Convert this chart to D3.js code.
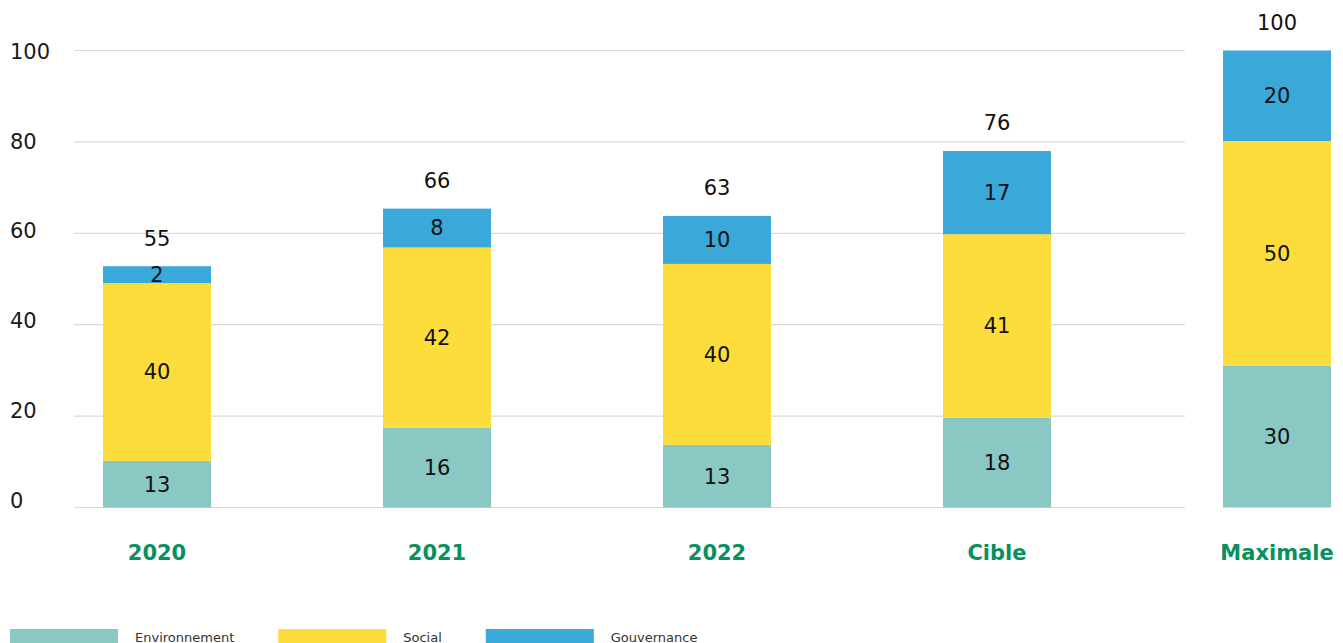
<!DOCTYPE html>
<html>
<head>
<meta charset="utf-8">
<script src="https://cdn.jsdelivr.net/npm/d3@7"></script>
<style>
  body { margin: 0; background: #fff; }
  svg { display: block; font-family: "DejaVu Sans", "Noto Sans", sans-serif; }
</style>
</head>
<body>
<script>
// categories and values
const categories = ["2020", "2021", "2022", "Cible", "Maximale"];
const seriesNames = ["Environnement", "Social", "Gouvernance"];
// drawn segment heights
const envValues = [10.2, 17.5, 13.7, 19.6, 31];
const socialValues = [38.9, 39.4, 39.6, 40.2, 49.2];
const govValues = [3.7, 8.5, 10.5, 18.2, 19.8];
// printed labels
const envLabels = ["13", "16", "13", "18", "30"];
const socialLabels = ["40", "42", "40", "41", "50"];
const govLabels = ["2", "8", "10", "17", "20"];
const totalLabels = ["55", "66", "63", "76", "100"];
const yTicks = [0, 20, 40, 60, 80, 100];

const colors = ["#8ac8c4", "#fcdd3c", "#3aa8d8"];
const W = 1343, H = 643;

const svg = d3.select("body").append("svg")
    .attr("width", W)
    .attr("height", H);

const y = d3.scaleLinear().domain([0, 100]).range([507.5, 50.5]);
const yLabel = d3.scaleLinear().domain([0, 100]).range([500.5, 51.5]);
const x = d3.scalePoint().domain(categories).range([157, 1277]);
const barWidth = 108;

// gridlines
svg.append("g")
    .selectAll("line")
    .data(yTicks)
    .join("line")
    .attr("x1", 74)
    .attr("x2", 1185)
    .attr("y1", d => y(d))
    .attr("y2", d => y(d))
    .attr("stroke", "#d9d9d9")
    .attr("stroke-width", 1.2);

// y tick labels
svg.append("g")
    .selectAll("text")
    .data(yTicks)
    .join("text")
    .attr("x", 10)
    .attr("y", d => yLabel(d))
    .attr("dy", "0.35em")
    .attr("font-size", 21)
    .attr("fill", "#1a1a1a")
    .text(d => d);

// stack
const rows = categories.map((c, i) => ({
    cat: c,
    Environnement: envValues[i],
    Social: socialValues[i],
    Gouvernance: govValues[i]
}));
const stacked = d3.stack().keys(seriesNames)(rows);
const segLabels = [envLabels, socialLabels, govLabels];

const layers = svg.append("g")
    .selectAll("g")
    .data(stacked)
    .join("g")
    .attr("fill", (d, i) => colors[i]);

layers.selectAll("rect")
    .data(d => d)
    .join("rect")
    .attr("x", d => x(d.data.cat) - barWidth / 2)
    .attr("y", d => y(d[1]))
    .attr("width", barWidth)
    .attr("height", d => y(d[0]) - y(d[1]));

// segment labels
stacked.forEach((layer, li) => {
    svg.append("g")
        .selectAll("text")
        .data(layer)
        .join("text")
        .attr("x", d => x(d.data.cat))
        .attr("y", d => (y(d[0]) + y(d[1])) / 2)
        .attr("dy", "0.35em")
        .attr("text-anchor", "middle")
        .attr("font-size", 21)
        .attr("fill", "#111")
        .text((d, i) => segLabels[li][i]);
});

// totals
const topLayer = stacked[stacked.length - 1];
svg.append("g")
    .selectAll("text")
    .data(topLayer)
    .join("text")
    .attr("x", d => x(d.data.cat))
    .attr("y", d => y(d[1]) - 28)
    .attr("dy", "0.35em")
    .attr("text-anchor", "middle")
    .attr("font-size", 21)
    .attr("fill", "#111")
    .text((d, i) => totalLabels[i]);

// category labels
svg.append("g")
    .selectAll("text")
    .data(categories)
    .join("text")
    .attr("x", d => x(d))
    .attr("y", 553)
    .attr("dy", "0.35em")
    .attr("text-anchor", "middle")
    .attr("font-size", 21)
    .attr("font-weight", "bold")
    .attr("fill", "#0a8f5e")
    .text(d => d);

// legend
const legend = svg.append("g");
let lx = 10;
seriesNames.forEach((name, i) => {
    legend.append("rect")
        .attr("x", lx)
        .attr("y", 629)
        .attr("width", 108)
        .attr("height", 20)
        .attr("fill", colors[i]);
    const t = legend.append("text")
        .attr("x", lx + 125)
        .attr("y", 642)
        .attr("font-size", 13)
        .attr("fill", "#333")
        .text(name);
    lx = lx + 125 + t.node().getComputedTextLength() + 44;
});
</script>
</body>
</html>
